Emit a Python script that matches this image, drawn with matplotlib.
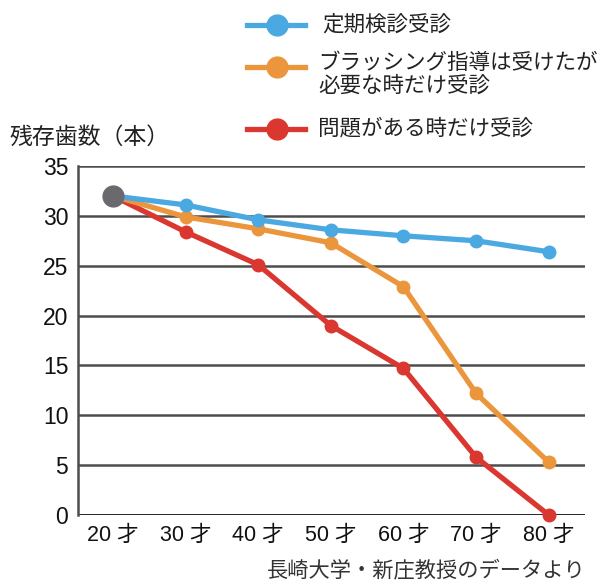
import matplotlib.pyplot as plt
from matplotlib.lines import Line2D

plt.rcParams['font.family'] = ['Liberation Sans', 'Noto Sans CJK JP', 'DejaVu Sans']

ages = ['20 才', '30 才', '40 才', '50 才', '60 才', '70 才', '80 才']
regular = [32.0, 31.1, 29.6, 28.6, 28.0, 27.5, 26.4]
brushing = [32.0, 29.9, 28.7, 27.3, 22.9, 12.2, 5.3]
problem = [32.0, 28.4, 25.1, 19.0, 14.7, 5.8, 0.0]
labels = ['定期検診受診', 'ブラッシング指導は受けたが\n必要な時だけ受診', '問題がある時だけ受診']
colors = ['#4aa9e0', '#eb963c', '#d9372f']
start_color = '#6a6a6e'

W, H = 600, 586
fig = plt.figure(figsize=(W / 100, H / 100), dpi=100)
ax = fig.add_axes([78 / W, 71 / H, (585 - 78) / W, (515 - 166) / H])

x = list(range(len(ages)))
# 後ろから描いて青を上に
for vals, c in zip([problem, brushing, regular], colors[::-1]):
    ax.plot(x, vals, color=c, lw=3.8, marker='o', ms=9, zorder=3, clip_on=False)
ax.plot(x[0], regular[0], 'o', color=start_color, ms=15, zorder=5)

ax.set_ylim(0, 35)
ax.set_xlim(-0.48, 6.5)
ax.set_yticks(range(0, 36, 5))
for v in range(5, 36, 5):
    ax.axhline(v, color='#4d4d4d', lw=1.8, zorder=1)
ax.axhline(0, color='#111111', lw=2, zorder=2)
ax.set_xticks(x)
ax.set_xticklabels(ages)
ax.tick_params(length=0, labelsize=15.5, colors='#111111')
ax.tick_params(axis='y', pad=7, labelsize=16.5)
ax.tick_params(axis='x', pad=7)
for s in ['top', 'right', 'bottom']:
    ax.spines[s].set_visible(False)
ax.spines['left'].set_color('#4d4d4d')
ax.spines['left'].set_linewidth(1.8)

fig.text(9 / W, 1 - 137 / H, '残存歯数（本）', fontsize=16.5, va='center', color='#222222')
fig.text(586 / W, 1 - 570 / H, '長崎大学・新庄教授のデータより', fontsize=15.3,
         ha='right', va='center', color='#333333')

# 凡例
rows = [25, 67, 129]
for lab, c, yy in zip(labels, colors, rows):
    yf = 1 - yy / H
    fig.add_artist(Line2D([247 / W, 305 / W], [yf, yf], color=c, lw=3.8))
    fig.add_artist(Line2D([277 / W], [yf], color=c, marker='o', ms=15))
    if '\n' in lab:
        fig.text(318 / W, 1 - 75 / H, lab, fontsize=15.5, va='center',
                 linespacing=1.1, color='#222222')
    else:
        fig.text((322 if yy == 25 else 318) / W, yf, lab, fontsize=15.5,
                 va='center', color='#222222')

fig.savefig('out.png', dpi=100)
